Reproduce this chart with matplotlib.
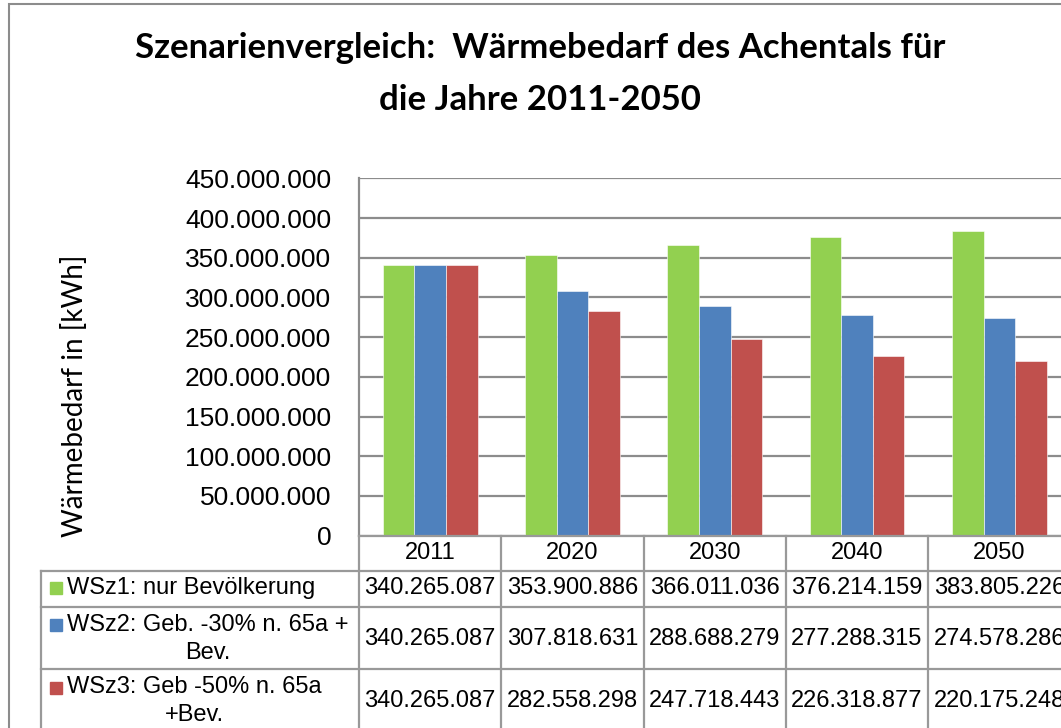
import matplotlib
matplotlib.use("Agg")
import matplotlib.pyplot as plt
import matplotlib.transforms as mtransforms
from matplotlib.lines import Line2D
from matplotlib.patches import Rectangle
from matplotlib.ticker import FuncFormatter

# ---------------- data ----------------
years = ["2011", "2020", "2030", "2040", "2050"]
series_names = [
    "WSz1: nur Bevölkerung",
    "WSz2: Geb. -30% n. 65a +\nBev.",
    "WSz3: Geb -50% n. 65a\n+Bev.",
]
wsz1 = [340265087, 353900886, 366011036, 376214159, 383805226]
wsz2 = [340265087, 307818631, 288688279, 277288315, 274578286]
wsz3 = [340265087, 282558298, 247718443, 226318877, 220175248]
colors = ["#92D050", "#4F81BD", "#C0504D"]
title = "Szenarienvergleich:  Wärmebedarf des Achentals für\ndie Jahre 2011-2050"
ylabel = "Wärmebedarf in [kWh]"
yticks = list(range(0, 450000001, 50000000))

series = [wsz1, wsz2, wsz3]

W, H = 1061, 728
fig = plt.figure(figsize=(W / 100, H / 100), dpi=100)

def fx(x):
    return x / W

def fy(y):
    return 1 - y / H

# outer chart frame
fig.add_artist(Rectangle((fx(9), fy(760)), fx(1100), fy(4) - fy(760),
                         transform=fig.transFigure, fill=False,
                         edgecolor="#8c8c8c", linewidth=1.5))

ax_left, ax_top, ax_bottom, ax_right = 359, 178.3, 535.6, 1070.5
ax = fig.add_axes([fx(ax_left), fy(ax_bottom), (ax_right - ax_left) / W,
                   (ax_bottom - ax_top) / H])

n = len(years)
bw = 1 / 4.5
for i, (vals, c) in enumerate(zip(series, colors)):
    xs = [k + (i - 1) * bw for k in range(n)]
    ax.bar(xs, vals, width=bw, color=c, edgecolor="white", linewidth=0.4,
           zorder=3)

ax.set_xlim(-0.5, n - 0.5)
ax.set_ylim(0, 450000000)
ax.set_yticks(yticks)
ax.yaxis.set_major_formatter(
    FuncFormatter(lambda v, p: f"{int(v):,}".replace(",", ".")))
ax.set_xticks([])
ax.tick_params(axis="y", length=0, pad=20, labelsize=19)
for lab in ax.get_yticklabels():
    lab.set_fontfamily("Liberation Sans")
ax.grid(axis="y", color="#8c8c8c", linewidth=1.6, zorder=0)
for s in ["top", "right", "bottom"]:
    ax.spines[s].set_visible(False)
ax.spines["left"].set_color("#8c8c8c")
ax.spines["left"].set_linewidth(1.6)

# title and y label
fig.text(fx(540), fy(74), title, ha="center", va="center",
         fontsize=25, fontweight="bold", family="Lato", linespacing=1.75)
fig.text(fx(75), fy(396), ylabel, ha="center", va="center", rotation=90,
         fontsize=20, family="Lato")

# ---------------- data table ----------------
bt = mtransforms.blended_transform_factory(ax.transData, fig.transFigure)
lc = "#999999"
lw = 1.6
row_edges = [ax_bottom, 570.7, 606.5, 669, 732]
row_centers = [588, 639, 701]
key_centers = [588, 625, 688]
# horizontal lines
fig.add_artist(Line2D([-0.5, n - 0.5], [fy(ax_bottom)] * 2, transform=bt,
                      color=lc, linewidth=lw))
for y in row_edges[1:]:
    fig.add_artist(Line2D([fx(41), fx(1100)], [fy(y)] * 2,
                          transform=fig.transFigure, color=lc, linewidth=lw))
# vertical lines
for k in range(n + 1):
    fig.add_artist(Line2D([k - 0.5, k - 0.5], [fy(ax_bottom), fy(760)],
                          transform=bt, color=lc, linewidth=lw))
fig.add_artist(Line2D([fx(41), fx(41)], [fy(570.7), fy(760)],
                      transform=fig.transFigure, color=lc, linewidth=lw))

# header
hc = (row_edges[0] + row_edges[1]) / 2
for k, yr in enumerate(years):
    fig.text(k, fy(hc), yr, transform=bt, ha="center", va="center",
             fontsize=17, family="Liberation Sans")

# rows
for r, (name, vals, c) in enumerate(zip(series_names, series, colors)):
    cy = row_centers[r]
    for k, v in enumerate(vals):
        fig.text(k, fy(cy), f"{v:,}".replace(",", "."), transform=bt,
                 ha="center", va="center", fontsize=17,
                 family="Liberation Sans")
    ky = key_centers[r]
    fig.add_artist(Rectangle((fx(50), fy(ky + 6)), fx(12), fy(0) - fy(12),
                             transform=fig.transFigure, color=c))
    fig.text(fx(67), fy(cy), name, ha="left", va="center",
             multialignment="center", fontsize=17, family="Liberation Sans",
             linespacing=1.4)

fig.savefig("out.png", dpi=100)
